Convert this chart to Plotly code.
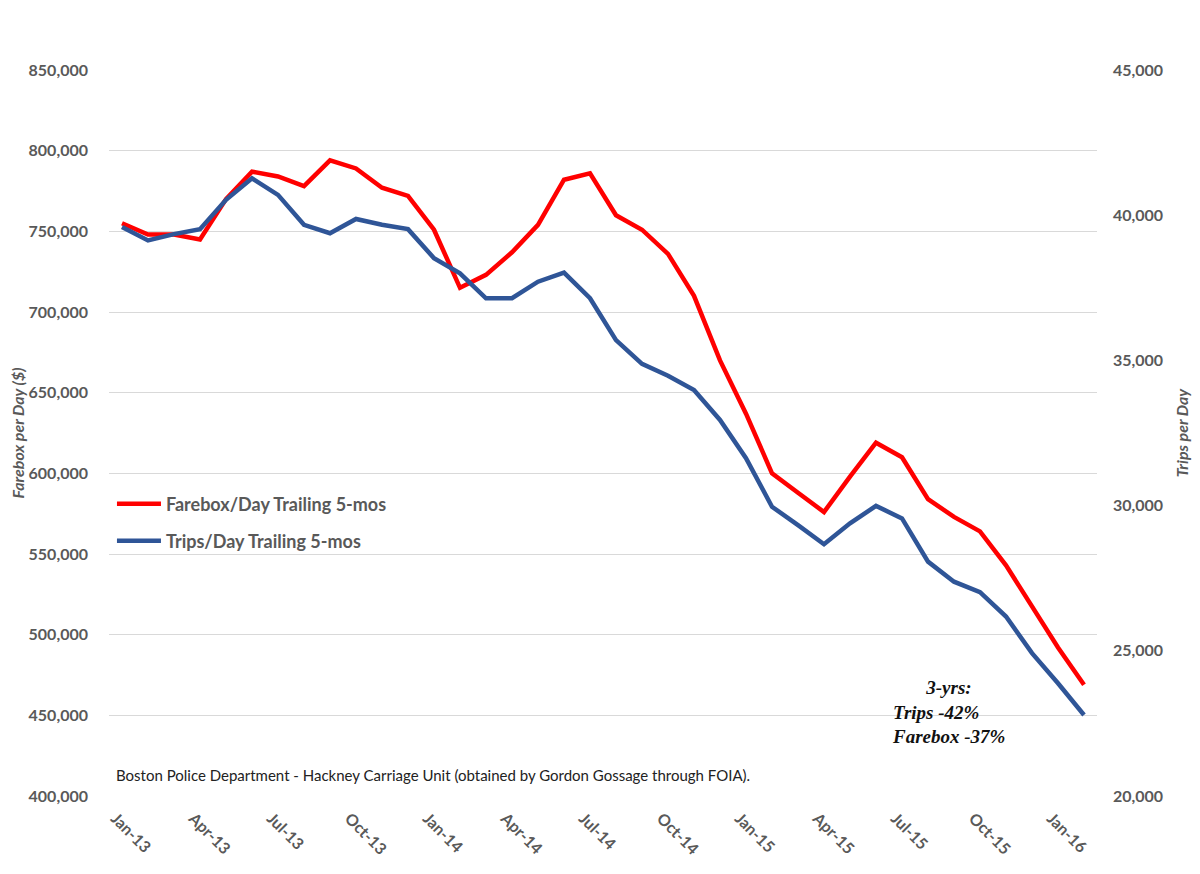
import plotly.graph_objects as go

months = ["Jan-13","Feb-13","Mar-13","Apr-13","May-13","Jun-13","Jul-13","Aug-13","Sep-13","Oct-13","Nov-13","Dec-13",
          "Jan-14","Feb-14","Mar-14","Apr-14","May-14","Jun-14","Jul-14","Aug-14","Sep-14","Oct-14","Nov-14","Dec-14",
          "Jan-15","Feb-15","Mar-15","Apr-15","May-15","Jun-15","Jul-15","Aug-15","Sep-15","Oct-15","Nov-15","Dec-15",
          "Jan-16","Feb-16"]

farebox = [755000, 748000, 748000, 745000, 770000, 787000, 784000, 778000, 794000, 789000, 777000, 772000,
           751000, 715000, 723000, 737000, 754000, 782000, 786000, 760000, 751000, 736000, 710000, 670000,
           637000, 600000, 588000, 576000, 598000, 619000, 610000, 584000, 573000, 564000, 543000, 517000,
           492000, 469000]

trips = [39590, 39130, 39350, 39520, 40530, 41270, 40700, 39670, 39380, 39870, 39670, 39520,
         38520, 38000, 37140, 37140, 37710, 38020, 37140, 35700, 34880, 34470, 33980, 32950,
         31630, 29960, 29330, 28670, 29390, 29990, 29560, 28070, 27380, 27020, 26180, 24920,
         23880, 22790]

tick_idx = list(range(0, 37, 3))
tick_text = [months[i] for i in tick_idx]

left_ticks = list(range(400000, 850001, 50000))
right_ticks = list(range(20000, 45001, 5000))

x = list(range(len(months)))

FONT = "Lato, Open Sans, sans-serif"
GRAY = "#595959"

fig = go.Figure()
fig.add_trace(go.Scatter(x=x, y=farebox, mode="lines", name="Farebox/Day Trailing 5-mos",
                         line=dict(color="#FF0000", width=4.5), legend="legend"))
fig.add_trace(go.Scatter(x=x, y=trips, mode="lines", name="Trips/Day Trailing 5-mos",
                         line=dict(color="#2F5597", width=4.5), yaxis="y2", legend="legend2"))

tick_font = dict(family=FONT, size=16, color=GRAY, weight="bold")
title_font = dict(family=FONT, size=16, color=GRAY, weight="bold")
legend_font = dict(family=FONT, size=18, color=GRAY, weight="bold")

fig.update_layout(
    width=1200, height=874,
    margin=dict(l=101, r=111, t=62, b=86),
    paper_bgcolor="white", plot_bgcolor="white",
    showlegend=True,
    xaxis=dict(range=[-0.5, len(months) - 0.5], tickmode="array",
               tickvals=[i - 0.25 for i in tick_idx], ticktext=tick_text,
               tickangle=45, tickfont=tick_font, showgrid=False, zeroline=False, showline=False,
               ticks="", ticklabelstandoff=9, automargin=False),
    yaxis=dict(range=[400000, 850000], tickvals=left_ticks, tickformat=",d", tickfont=tick_font,
               showgrid=True, gridcolor="#D9D9D9", gridwidth=1, zeroline=False, showline=False,
               ticks="", ticklabelstandoff=20, automargin=False,
               title=dict(text="<i>Farebox per Day ($)</i>", font=title_font, standoff=12)),
    yaxis2=dict(range=[20000, 45000], tickvals=right_ticks, tickformat=",d", tickfont=tick_font,
                overlaying="y", side="right", showgrid=False, zeroline=False, showline=False,
                ticks="", ticklabelstandoff=15, automargin=False,
                title=dict(text="<i>Trips per Day</i>", font=title_font, standoff=14)),
    legend=dict(x=0.003, y=0.402, xanchor="left", yanchor="middle", bgcolor="rgba(0,0,0,0)",
                font=legend_font, itemwidth=44),
    legend2=dict(x=0.003, y=0.351, xanchor="left", yanchor="middle", bgcolor="rgba(0,0,0,0)",
                 font=legend_font, itemwidth=44),
    annotations=[
        dict(text="Boston Police Department - Hackney Carriage Unit (obtained by Gordon Gossage through FOIA).",
             xref="paper", yref="paper", x=0.005, y=0.029, xanchor="left", yanchor="middle", showarrow=False,
             font=dict(family=FONT, size=15, color="#222222")),
        dict(text="<b><i>\u00a0\u00a0\u00a0\u00a0\u00a0\u00a0\u00a03-yrs:<br>Trips -42%<br>Farebox -37%</i></b>",
             xref="paper", yref="paper", x=0.79, y=0.167, xanchor="left", yanchor="top", align="left",
             showarrow=False, font=dict(family="Liberation Serif, serif", size=19, color="#111111")),
    ],
)

fig.write_html("out.html")
